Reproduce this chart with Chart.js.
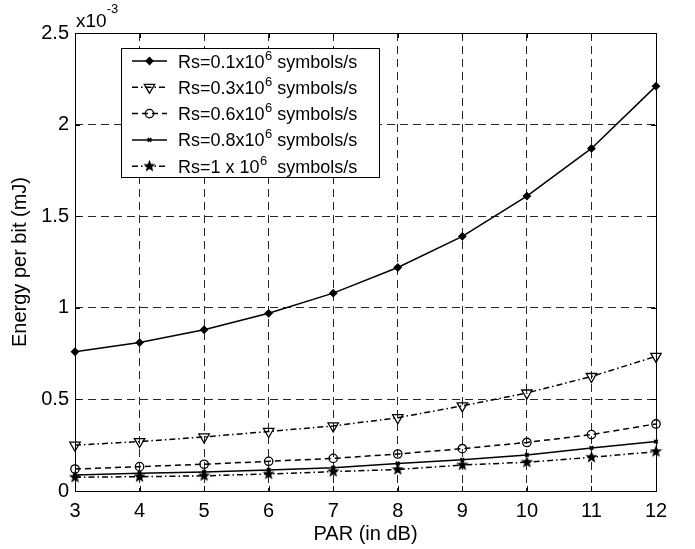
<!DOCTYPE html>
<html>
<head>
<meta charset="utf-8">
<script src="https://cdn.jsdelivr.net/npm/chart.js@4.4.0/dist/chart.umd.min.js"></script>
<style>
  html, body { margin: 0; padding: 0; background: #fff; }
</style>
</head>
<body>
<canvas id="energyChart" width="695" height="549"></canvas>
<script>
// PAR values (dB) on the x axis
const parValues = [3, 4, 5, 6, 7, 8, 9, 10, 11, 12];

// energy per bit, in units of 1e-3 mJ
const energyRs01 = [0.76, 0.81, 0.88, 0.97, 1.08, 1.22, 1.39, 1.61, 1.87, 2.21];
const energyRs03 = [0.25, 0.27, 0.295, 0.325, 0.355, 0.40, 0.465, 0.535, 0.625, 0.735];
const energyRs06 = [0.12, 0.133, 0.146, 0.162, 0.178, 0.202, 0.231, 0.265, 0.308, 0.366];
const energyRs08 = [0.087, 0.097, 0.104, 0.115, 0.127, 0.15, 0.17, 0.197, 0.235, 0.27];
const energyRs10 = [0.075, 0.078, 0.083, 0.093, 0.106, 0.117, 0.142, 0.157, 0.184, 0.215];

const legendHead = ['Rs=0.1x10', 'Rs=0.3x10', 'Rs=0.6x10', 'Rs=0.8x10', 'Rs=1 x 10'];
const legendSup = '6';
const legendTail = [' symbols/s', ' symbols/s', ' symbols/s', ' symbols/s', '  symbols/s'];

const FONT = '"Liberation Sans", Arial, Helvetica, sans-serif';

// filled five-point star used as marker
function makeStar(size) {
  const c = document.createElement('canvas');
  c.width = c.height = size;
  const g = c.getContext('2d');
  const R = size / 2, r = R * 0.42;
  g.beginPath();
  for (let i = 0; i < 10; i++) {
    const a = -Math.PI / 2 + i * Math.PI / 5;
    const rad = i % 2 ? r : R;
    g.lineTo(R + rad * Math.cos(a), R + rad * Math.sin(a));
  }
  g.closePath();
  g.fillStyle = '#000';
  g.fill();
  return c;
}
const starImg = makeStar(13);

function series(data, dash, pointStyle, radius, fill, extra) {
  return Object.assign({
    data: parValues.map((x, i) => ({ x: x, y: data[i] })),
    borderColor: '#000',
    borderWidth: 1.5,
    borderDash: dash,
    pointStyle: pointStyle,
    pointRadius: radius,
    pointHoverRadius: radius,
    pointBorderColor: '#000',
    pointBackgroundColor: fill,
    pointBorderWidth: 1.3,
    tension: 0,
    clip: 12
  }, extra || {});
}

const dashDot = [6, 3, 1.5, 3];

const datasets = [
  series(energyRs01, [], 'rectRot', 3.5, '#000'),
  series(energyRs03, dashDot, 'triangle', 6, 'rgba(0,0,0,0)', { pointRotation: 180 }),
  series(energyRs06, [6, 4], 'circle', 4.2, 'rgba(0,0,0,0)'),
  series(energyRs08, [], 'crossRot', 2.5, '#000', { pointBorderWidth: 1.8 }),
  series(energyRs10, dashDot, starImg, 6, '#000')
];

// frame, inward ticks, exponent label and legend
const decorPlugin = {
  id: 'decor',
  afterDraw(chart) {
    const ctx = chart.ctx;
    const a = chart.chartArea;
    const xs = chart.scales.x, ys = chart.scales.y;
    ctx.save();
    ctx.strokeStyle = '#000';
    ctx.lineWidth = 1;
    ctx.setLineDash([]);
    ctx.beginPath();
    xs.ticks.forEach(t => {
      const px = Math.round(xs.getPixelForValue(t.value)) + 0.5;
      ctx.moveTo(px, a.bottom); ctx.lineTo(px, a.bottom - 5);
      ctx.moveTo(px, a.top); ctx.lineTo(px, a.top + 5);
    });
    ys.ticks.forEach(t => {
      const py = Math.round(ys.getPixelForValue(t.value)) + 0.5;
      ctx.moveTo(a.left, py); ctx.lineTo(a.left + 5, py);
      ctx.moveTo(a.right, py); ctx.lineTo(a.right - 5, py);
    });
    ctx.stroke();
    ctx.strokeRect(Math.round(a.left) + 0.5, Math.round(a.top) + 0.5,
      Math.round(a.right - a.left), Math.round(a.bottom - a.top));

    // x10^-3
    ctx.fillStyle = '#000';
    ctx.textBaseline = 'alphabetic';
    ctx.textAlign = 'left';
    ctx.font = '19px ' + FONT;
    ctx.fillText('x10', a.left + 1, 27);
    const w = ctx.measureText('x10').width;
    ctx.font = '13px ' + FONT;
    ctx.fillText('-3', a.left + 1 + w, 13);

    // legend
    const bx = 121, by = 48, bw = 258, bh = 129;
    ctx.fillStyle = '#fff';
    ctx.fillRect(bx, by, bw, bh);
    ctx.strokeRect(bx + 0.5, by + 0.5, bw, bh);
    chart.data.datasets.forEach((ds, i) => {
      const ry = by + 13 + i * 26.3;
      ctx.save();
      ctx.strokeStyle = '#000';
      ctx.lineWidth = ds.borderWidth;
      ctx.setLineDash(ds.borderDash);
      ctx.beginPath();
      ctx.moveTo(132, ry); ctx.lineTo(167, ry);
      ctx.stroke();
      ctx.setLineDash([]);
      ctx.fillStyle = ds.pointBackgroundColor;
      ctx.lineWidth = ds.pointBorderWidth;
      Chart.helpers.drawPoint(ctx, {
        pointStyle: ds.pointStyle,
        radius: ds.pointRadius,
        rotation: ds.pointRotation || 0,
        borderWidth: ds.pointBorderWidth
      }, 149.5, ry);
      ctx.restore();

      ctx.fillStyle = '#000';
      let tx = 178;
      const base = ry + 6.5;
      ctx.font = '18px ' + FONT;
      ctx.fillText(legendHead[i], tx, base);
      tx += ctx.measureText(legendHead[i]).width;
      ctx.font = '13px ' + FONT;
      ctx.fillText(legendSup, tx + 0.5, base - 8);
      tx += ctx.measureText(legendSup).width + 0.5;
      ctx.font = '18px ' + FONT;
      ctx.fillText(legendTail[i], tx, base);
    });
    ctx.restore();
  }
};

new Chart(document.getElementById('energyChart').getContext('2d'), {
  type: 'line',
  data: { datasets: datasets },
  options: {
    responsive: false,
    animation: false,
    events: [],
    layout: { padding: { top: 33, right: 39, left: 0, bottom: 0 } },
    plugins: {
      legend: { display: false },
      tooltip: { enabled: false }
    },
    scales: {
      x: {
        type: 'linear',
        min: 3,
        max: 12,
        afterFit: s => { s.height = 58; },
        ticks: {
          stepSize: 1,
          color: '#000',
          padding: 8,
          maxRotation: 0,
          font: { family: FONT, size: 20 }
        },
        grid: { color: 'rgba(0,0,0,0.85)', lineWidth: 1, drawTicks: false },
        border: { display: false, dash: [8, 5] },
        title: {
          display: true,
          text: 'PAR (in dB)',
          color: '#000',
          font: { family: FONT, size: 20 },
          padding: { top: 0, bottom: 3 }
        }
      },
      y: {
        type: 'linear',
        min: 0,
        max: 2.5,
        afterFit: s => { s.width = 75; },
        ticks: {
          stepSize: 0.5,
          color: '#000',
          padding: 6,
          font: { family: FONT, size: 20 },
          callback: v => String(v)
        },
        grid: { color: 'rgba(0,0,0,0.85)', lineWidth: 1, drawTicks: false },
        border: { display: false, dash: [8, 5] },
        title: {
          display: true,
          text: 'Energy per bit (mJ)',
          color: '#000',
          font: { family: FONT, size: 20 },
          padding: { top: 8, bottom: 0 }
        }
      }
    }
  },
  plugins: [decorPlugin]
});
</script>
</body>
</html>
